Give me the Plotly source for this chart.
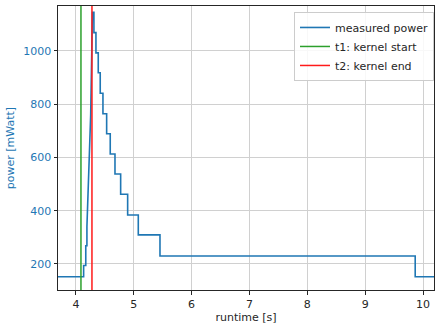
import plotly.graph_objects as go

# rising part of the measured power trace (runtime in s, power in mWatt)
rise_runtime = [3.69, 4.133, 4.133, 4.17, 4.17, 4.19, 4.19, 4.225, 4.255, 4.285]
rise_power = [152, 152, 194, 194, 268, 268, 340, 540, 760, 1145]
# decaying part: the power steps down to the next level at each step time
step_runtime = [4.311, 4.346, 4.386, 4.42, 4.467, 4.531, 4.593, 4.675, 4.773,
                4.894, 5.078, 5.453, 9.865]
step_power = [1069, 993, 918, 841, 764, 689, 613, 538, 462,
              384, 309, 230, 152]
end_runtime = 10.19

t1_kernel_start = 4.087
t2_kernel_end = 4.277

x_range = [3.69, 10.19]
y_range = [102, 1169]
x_ticks = [4, 5, 6, 7, 8, 9, 10]
y_ticks = [200, 400, 600, 800, 1000]

BLUE = "#1f77b4"
FONT = "DejaVu Sans"
FS = 11

xs = list(rise_runtime)
ys = list(rise_power)
for t, p in zip(step_runtime, step_power):
    xs += [t, t]
    ys += [ys[-1], p]
xs.append(end_runtime)
ys.append(ys[-1])

fig = go.Figure()
fig.add_trace(go.Scatter(x=xs, y=ys, mode="lines", name="measured power",
                         line=dict(color=BLUE, width=1.6)))
fig.add_trace(go.Scatter(x=[t1_kernel_start, t1_kernel_start], y=y_range, mode="lines",
                         name="t1: kernel start", line=dict(color="#2ca02c", width=1.5)))
fig.add_trace(go.Scatter(x=[t2_kernel_end, t2_kernel_end], y=y_range, mode="lines",
                         name="t2: kernel end", line=dict(color="#ff1a1a", width=1.5)))

fig.update_layout(
    width=436, height=329,
    margin=dict(l=58, r=2, t=6, b=39),
    plot_bgcolor="white", paper_bgcolor="white",
    font=dict(family=FONT, size=FS, color="#262626"),
    showlegend=True,
    legend=dict(x=1.0, y=0.979, xanchor="right", yanchor="top",
                bgcolor="rgba(255,255,255,0.85)", bordercolor="#cccccc", borderwidth=1,
                font=dict(family=FONT, size=FS, color="#262626"),
                itemwidth=30, tracegroupgap=0),
)
fig.update_xaxes(range=x_range, tickvals=x_ticks, showgrid=True, gridcolor="#d0d0d0",
                 gridwidth=1, showline=True, linecolor="#262626", linewidth=1, mirror=True,
                 ticks="outside", ticklen=3.5, tickcolor="#262626", zeroline=False,
                 title=dict(text="runtime [s]", standoff=3, font=dict(size=FS, color="#262626")),
                 tickfont=dict(size=FS, color="#262626"))
fig.update_yaxes(range=y_range, tickvals=y_ticks, showgrid=True, gridcolor="#d0d0d0",
                 gridwidth=1, showline=True, linecolor="#262626", linewidth=1, mirror=True,
                 ticks="outside", ticklen=3.5, tickcolor="#262626", zeroline=False,
                 title=dict(text="power [mWatt]", standoff=6, font=dict(size=FS, color=BLUE)),
                 tickfont=dict(size=FS, color=BLUE))

fig.write_html("out.html")
